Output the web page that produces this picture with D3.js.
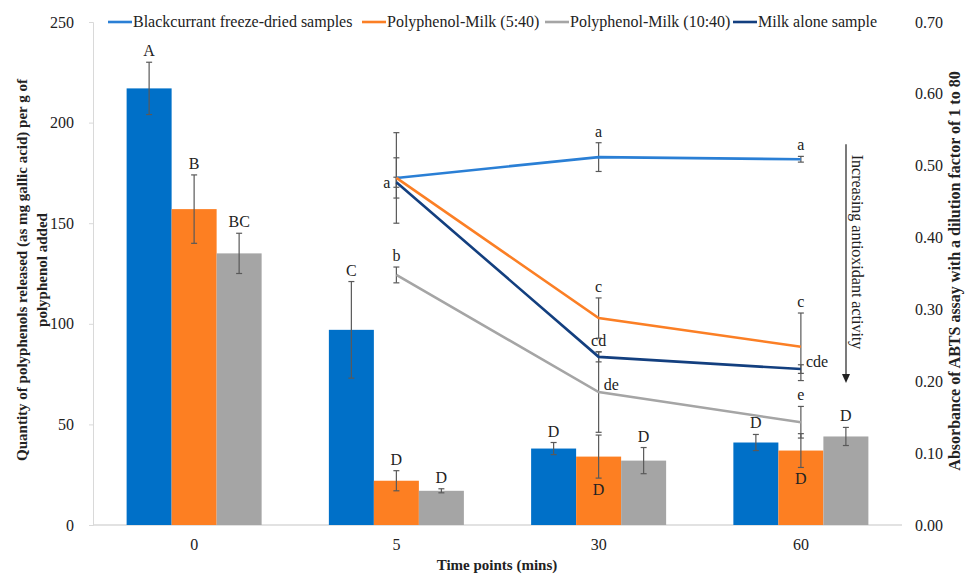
<!DOCTYPE html>
<html lang="en">
<head>
    <meta charset="utf-8">
    <title>Polyphenols released and ABTS absorbance</title>
    <script src="https://d3js.org/d3.v7.min.js" charset="utf-8"></script>
    <style type="text/css">
        body { margin: 0; background: #fff; }
        svg text { font-family: "Times New Roman", "Liberation Serif", serif; fill: #222; }
    </style>
</head>
<body>
<script type="text/javascript">
    // time points (x categories)
    var categories = ['0', '5', '30', '60'];

    // bars: polyphenols released (left axis)
    var barNames = ['blackcurrant', 'pm540', 'pm1040'];
    var blueBar = [217, 97, 38, 41];
    var blueBarErr = [13, 24, 3, 4];
    var blueBarLabels = ['A', 'C', 'D', 'D'];
    var orangeBar = [157, 22, 34, 37];
    var orangeBarErr = [17, 5, 10.7, 8.4];
    var orangeBarLabels = ['B', 'D', 'D', 'D'];
    var grayBar = [135, 17, 32, 44];
    var grayBarErr = [10, 1, 6.5, 4.5];
    var grayBarLabels = ['BC', 'D', 'D', 'D'];

    // lines: ABTS absorbance (right axis), time points 5, 30, 60
    var lineCategories = ['5', '30', '60'];
    var blackcurrantLine = [0.483, 0.512, 0.509];
    var blackcurrantErr = [0.063, 0.02, 0.004];
    var blackcurrantLabels = ['a', 'a', 'a'];
    var pm540Line = [0.483, 0.288, 0.248];
    var pm540Err = [0.028, 0.028, 0.047];
    var pm540Labels = ['', 'c', 'c'];
    var pm1040Line = [0.348, 0.185, 0.143];
    var pm1040Err = [0.011, 0.056, 0.022];
    var pm1040Labels = ['b', 'de', 'e'];
    var milkLine = [0.477, 0.234, 0.217];
    var milkErr = [0.007, 0.007, 0.006];
    var milkLabels = ['', 'cd', 'cde'];

    var leftTicks = [0, 50, 100, 150, 200, 250];
    var rightTicks = [0, 0.1, 0.2, 0.3, 0.4, 0.5, 0.6, 0.7];

    var W = 966, H = 574;
    var plotLeft = 93, plotRight = 902, plotTop = 22, plotBottom = 525;

    var svg = d3.select('body').append('svg').attr('width', W).attr('height', H);

    var x0 = d3.scaleBand().domain(categories).range([plotLeft, plotRight]).padding(0);
    var x1 = d3.scaleBand().domain(barNames).range([0, x0.bandwidth()])
            .paddingInner(0).paddingOuter(0.747);
    var yL = d3.scaleLinear().domain([0, 250]).range([plotBottom, plotTop]);
    var yR = d3.scaleLinear().domain([0, 0.7]).range([plotBottom, plotTop]);

    // axes
    var gl = svg.append('g').attr('transform', 'translate(' + plotLeft + ',0)')
            .call(d3.axisLeft(yL).tickValues(leftTicks).tickSize(4).tickPadding(15));
    gl.select('.domain').attr('stroke', '#d9d9d9');
    gl.selectAll('.tick line').attr('stroke', '#d9d9d9');
    gl.selectAll('text').style('font-size', '16px').attr('fill', '#333');

    var gr = svg.append('g').attr('transform', 'translate(' + plotRight + ',0)')
            .call(d3.axisRight(yR).tickValues(rightTicks).tickSize(0).tickPadding(13)
                    .tickFormat(d3.format('.2f')));
    gr.select('.domain').remove();
    gr.selectAll('text').style('font-size', '16px').attr('fill', '#333');

    var gx = svg.append('g').attr('transform', 'translate(0,' + plotBottom + ')')
            .call(d3.axisBottom(x0).tickSize(0).tickPadding(14));
    gx.select('.domain').remove();
    gx.selectAll('text').style('font-size', '16px').attr('fill', '#333');
    svg.append('line').attr('x1', plotLeft).attr('x2', plotRight).attr('y1', plotBottom).attr('y2', plotBottom)
            .attr('stroke', '#d9d9d9').attr('stroke-width', 1.5);

    // bars
    var barColors = {blackcurrant: '#0070c8', pm540: '#fd7f22', pm1040: '#a5a5a5'};
    var barVals = {blackcurrant: blueBar, pm540: orangeBar, pm1040: grayBar};
    var barErrs = {blackcurrant: blueBarErr, pm540: orangeBarErr, pm1040: grayBarErr};
    var barLabs = {blackcurrant: blueBarLabels, pm540: orangeBarLabels, pm1040: grayBarLabels};
    // orange bar letters at 30 and 60 sit under the error bar
    var barLabelBelow = {pm540: [false, false, true, true]};

    var barData = [];
    barNames.forEach(function (s) {
        categories.forEach(function (c, i) {
            barData.push({s: s, c: c, v: barVals[s][i], e: barErrs[s][i], l: barLabs[s][i],
                below: barLabelBelow[s] ? barLabelBelow[s][i] : false});
        });
    });

    var bars = svg.append('g');
    bars.selectAll('rect').data(barData).enter().append('rect')
            .attr('x', function (d) { return x0(d.c) + x1(d.s); })
            .attr('y', function (d) { return yL(d.v); })
            .attr('width', x1.bandwidth())
            .attr('height', function (d) { return yL(0) - yL(d.v); })
            .attr('fill', function (d) { return barColors[d.s]; });

    function errBar(g, cx, yTop, yBot, cap) {
        g.append('line').attr('x1', cx).attr('x2', cx).attr('y1', yTop).attr('y2', yBot);
        g.append('line').attr('x1', cx - cap).attr('x2', cx + cap).attr('y1', yTop).attr('y2', yTop);
        g.append('line').attr('x1', cx - cap).attr('x2', cx + cap).attr('y1', yBot).attr('y2', yBot);
    }

    var ebars = svg.append('g').attr('stroke', '#595959').attr('stroke-width', 1.2);
    barData.forEach(function (d) {
        var cx = x0(d.c) + x1(d.s) + x1.bandwidth() / 2;
        errBar(ebars, cx, yL(d.v + d.e), yL(d.v - d.e), 3);
    });

    bars.selectAll('text').data(barData).enter().append('text')
            .attr('x', function (d) { return x0(d.c) + x1(d.s) + x1.bandwidth() / 2; })
            .attr('y', function (d) { return d.below ? yL(d.v - d.e) + 17 : yL(d.v + d.e) - 6; })
            .attr('text-anchor', 'middle')
            .style('font-size', '16px')
            .text(function (d) { return d.l; });

    // lines
    var lineSeries = [
        {name: 'Blackcurrant freeze-dried samples', color: '#2a7fd5', v: blackcurrantLine, e: blackcurrantErr, l: blackcurrantLabels,
            pos: ['left', 'above', 'above']},
        {name: 'Polyphenol-Milk (5:40)', color: '#fb7f25', v: pm540Line, e: pm540Err, l: pm540Labels,
            pos: ['above', 'above', 'above']},
        {name: 'Polyphenol-Milk (10:40)', color: '#a5a5a5', v: pm1040Line, e: pm1040Err, l: pm1040Labels,
            pos: ['above', 'right', 'above']},
        {name: 'Milk alone sample', color: '#133f7f', v: milkLine, e: milkErr, l: milkLabels,
            pos: ['above', 'above', 'right']}
    ];

    var xc = function (c) { return x0(c) + x0.bandwidth() / 2; };
    var line = d3.line()
            .x(function (d) { return xc(d.c); })
            .y(function (d) { return yR(d.v); });

    var lerr = svg.append('g').attr('stroke', '#595959').attr('stroke-width', 1.2);
    lineSeries.forEach(function (s) {
        lineCategories.forEach(function (c, i) {
            errBar(lerr, xc(c), yR(s.v[i] + s.e[i]), yR(s.v[i] - s.e[i]), 3);
        });
    });

    lineSeries.forEach(function (s) {
        var pts = lineCategories.map(function (c, i) { return {c: c, v: s.v[i]}; });
        svg.append('path').datum(pts).attr('d', line)
                .attr('fill', 'none').attr('stroke', s.color).attr('stroke-width', 2.6);
    });

    lineSeries.forEach(function (s) {
        lineCategories.forEach(function (c, i) {
            if (!s.l[i]) return;
            var t = svg.append('text').style('font-size', '16px').text(s.l[i]);
            var p = s.pos[i];
            if (p === 'above') {
                t.attr('x', xc(c)).attr('y', yR(s.v[i] + s.e[i]) - 6).attr('text-anchor', 'middle');
            } else if (p === 'left') {
                t.attr('x', xc(c) - 6).attr('y', yR(s.v[i]) + 10).attr('text-anchor', 'end');
            } else {
                t.attr('x', xc(c) + 5).attr('y', yR(s.v[i]) - 2).attr('text-anchor', 'start');
            }
        });
    });

    // annotation arrow
    var ax = 846;
    svg.append('line').attr('x1', ax).attr('x2', ax).attr('y1', yR(0.53)).attr('y2', yR(0.21))
            .attr('stroke', '#333').attr('stroke-width', 1.3);
    svg.append('path')
            .attr('d', 'M' + (ax - 4) + ',' + yR(0.21) + ' L' + (ax + 4) + ',' + yR(0.21) + ' L' + ax + ',' + (yR(0.21) + 9) + ' Z')
            .attr('fill', '#222');
    svg.append('text').attr('transform', 'translate(' + 858 + ',' + 252 + ') rotate(90)')
            .attr('text-anchor', 'middle').attr('dy', '0.35em')
            .style('font-size', '16px').text('Increasing antioxidant activity');

    // legend
    var legendX = [108, 362, 545, 733];
    var lg = svg.append('g');
    lineSeries.forEach(function (s, i) {
        lg.append('line').attr('x1', legendX[i]).attr('x2', legendX[i] + 24).attr('y1', 22).attr('y2', 22)
                .attr('stroke', s.color).attr('stroke-width', 2.6);
        lg.append('text').attr('x', legendX[i] + 25).attr('y', 27).style('font-size', '16px').text(s.name);
    });

    // axis titles
    var lt = svg.append('text').attr('transform', 'translate(22,270) rotate(-90)')
            .attr('text-anchor', 'middle').style('font-size', '15px').style('font-weight', 'bold');
    lt.append('tspan').attr('x', 0).attr('dy', '0.35em')
            .text('Quantity of polyphenols released (as mg gallic acid) per g of');
    lt.append('tspan').attr('x', 0).attr('dy', '1.3em').text('polyphenol added');

    svg.append('text').attr('transform', 'translate(960,271) rotate(-90)')
            .attr('text-anchor', 'middle').style('font-size', '16px').style('font-weight', 'bold')
            .text('Absorbance of ABTS assay with a dilution factor of 1 to 80');

    svg.append('text').attr('x', 497).attr('y', 570).attr('text-anchor', 'middle')
            .style('font-size', '15px').style('font-weight', 'bold').text('Time points (mins)');
</script>
</body>
</html>
